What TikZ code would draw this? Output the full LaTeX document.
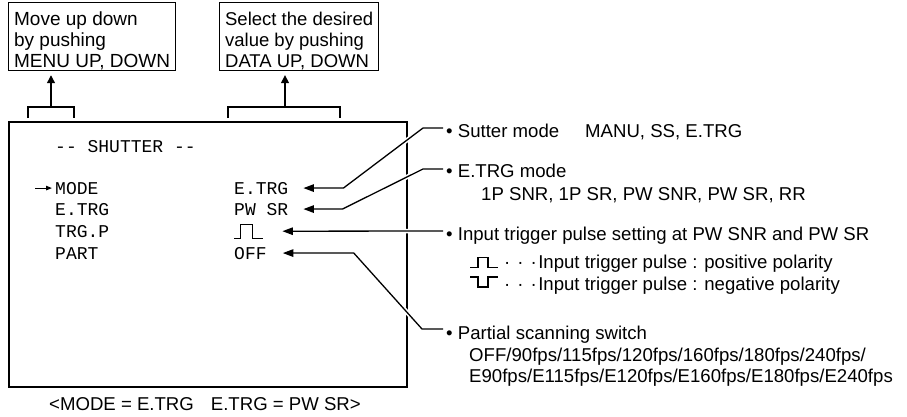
\documentclass[tikz,border=0pt]{standalone}
\usepackage{fontspec}
\setmainfont{Liberation Sans}
\setmonofont{Liberation Mono}
\usetikzlibrary{arrows.meta}
\begin{document}
\begin{tikzpicture}[x=1pt,y=-1pt,
  every node/.style={inner sep=0pt},
  topbox/.style={draw, line width=1.3pt, align=left, inner xsep=5.5pt, inner ysep=1pt, anchor=north west},
  screen/.style={draw, line width=2.3pt, minimum width=398pt, minimum height=265pt, anchor=north west},
  mono/.style={font=\ttfamily\fontsize{18}{20}\selectfont, anchor=base west},
  lbl/.style={font=\fontsize{18.6}{21}\selectfont, anchor=base west},
  pulsebox/.style={anchor=north west},
  thinline/.style={line width=1.3pt},
  pulse/.style={line width=1.2pt},
  uparrow/.style={line width=1.3pt, -{Triangle[length=8pt,width=8pt]}, shorten >=4pt},
  smallarrow/.style={line width=1pt, -{Triangle[length=6pt,width=4.5pt]}},
  leader/.style={line width=1.3pt, preaction={draw=white, line width=4.5pt, -}, -{Triangle[length=10.5pt,width=7.5pt]}}
]
\useasboundingbox (0,0) rectangle (907,416);

% top boxes
\node[topbox, font=\fontsize{19}{21}\selectfont] (b1) at (8,2)
  {\rule{0pt}{21.5pt}Move up down\\by pushing\\MENU UP, DOWN};
\node[topbox, font=\fontsize{18.5}{21}\selectfont] (b2) at (219,2)
  {\rule{0pt}{21.5pt}Select the desired\\value by pushing\\DATA UP, DOWN};

% brackets and arrows
\coordinate (br1) at (51,107);
\coordinate (br2) at (285,107);
\draw[thinline] (28,118) -- (28,107) -- (74,107) -- (74,118);
\draw[thinline] (228,118) -- (228,107) -- (340,107) -- (340,118);
\draw[uparrow] (br1) -- (br1 |- b1.south);
\draw[uparrow] (br2) -- (br2 |- b2.south);

% screen
\node[screen] (scr) at (8,121) {};
\node[mono] (title) at (55,152) {-\kern0pt- SHUTTER -\kern0pt-};
\node[mono] (mode) at (55,194) {MODE};
\node[mono] (etrg) at (55,215) {E.TRG};
\node[mono] (trgp) at (55,237) {TRG.P};
\node[mono] (part) at (55,259) {PART};
\node[mono] (v1) at (234,194) {E.TRG};
\node[mono] (v2) at (234,215) {PW SR};
\node[pulsebox, minimum width=29pt, minimum height=14pt] (p0) at (234,224) {};
\node[mono] (v4) at (234,259) {OFF};
\draw[pulse] (p0.south west) -- ++(6.7,0) -- ++(0,-14) -- ++(12,0) -- ++(0,14) -- (p0.south east);
\draw[smallarrow] ([xshift=-20pt]mode.west) -- ([xshift=-3pt]mode.west);

% right labels
\node[lbl] (s1) at (446,137) {• Sutter mode\hspace{26pt}MANU, SS, E.TRG};
\node[lbl] (s2) at (446,177) {• E.TRG mode};
\node[lbl] (s2b) at (481,200) {1P SNR, 1P SR, PW SNR, PW SR, RR};
\node[lbl] (s3) at (446,240) {• Input trigger pulse setting at PW SNR and PW SR};
\node[pulsebox, minimum width=28pt, minimum height=10pt] (p1) at (470,257) {};
\draw[pulse] (p1.south west) -- ++(8,0) -- ++(0,-10) -- ++(10,0) -- ++(0,10) -- (p1.south east);
\node[lbl] (pos) at (504,268) {·\hspace{7pt}·\hspace{7pt}·\hspace{1.5pt}Input trigger pulse : positive polarity};
\node[pulsebox, minimum width=28pt, minimum height=10pt] (p2) at (470,277) {};
\draw[pulse] (p2.north west) -- ++(8,0) -- ++(0,10) -- ++(10,0) -- ++(0,-10) -- (p2.north east);
\node[lbl] (neg) at (504,290) {·\hspace{7pt}·\hspace{7pt}·\hspace{1.5pt}Input trigger pulse : negative polarity};
\node[lbl] (s4) at (446,339) {• Partial scanning switch};
\node[lbl] (s4b) at (469,361) {OFF/90fps/115fps/120fps/160fps/180fps/240fps/};
\node[lbl] (s4c) at (469,382) {E90fps/E115fps/E120fps/E160fps/E180fps/E240fps};

% caption
\node[lbl] (cap) at (49,410) {<MODE = E.TRG\hspace{17pt}E.TRG = PW SR>};

% leaders
\coordinate (e1) at (443,128); \coordinate (k1) at (423,128);
\coordinate (e2) at (443,169); \coordinate (k2) at (423,169);
\coordinate (e3) at (443,231);
\coordinate (e4) at (443,329); \coordinate (k4) at (422,329);
\draw[leader] (e1) -- (k1) -- ([xshift=55pt]v1.east) -- ([xshift=15pt]v1.east);
\draw[leader] (e2) -- (k2) -- ([xshift=54pt]v2.east) -- ([xshift=15pt]v2.east);
\draw[leader] (e3) -- ([xshift=19pt]p0.east);
\draw[leader] (e4) -- (k4) -- ([xshift=87pt]v4.east) -- ([xshift=16pt]v4.east);
\end{tikzpicture}
\end{document}
